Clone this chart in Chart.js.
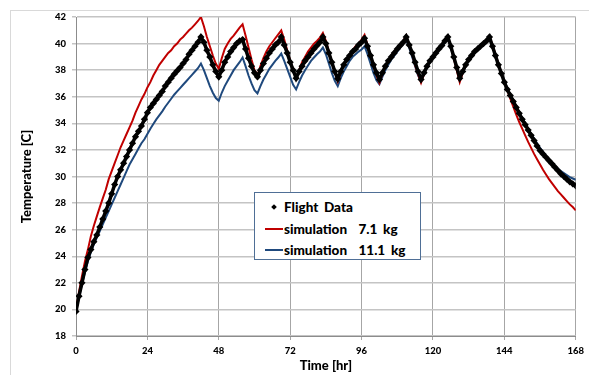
<!DOCTYPE html>
<html>
<head>
<meta charset="utf-8">
<script src="https://cdn.jsdelivr.net/npm/chart.js@4.4.1/dist/chart.umd.min.js"></script>
<style>
  html, body { margin:0; padding:0; background:#fff; }
  #wrap { position:relative; width:589px; height:375px; overflow:hidden; background:#fff; }
  #frame { position:absolute; left:10px; top:10px; width:640px; height:420px; border:1px solid #d9d9d9; }
  #c { position:absolute; left:0; top:0; }
  #legend { position:absolute; left:254px; top:192px; width:165px; height:66px; border:1px solid #4f6f96; background:#fff;
            font-family:Lato, 'Open Sans', sans-serif; font-weight:900; font-size:13.5px; color:#000; }
  .row { position:absolute; left:0; height:16px; line-height:16px; white-space:pre; }
  .txt { position:absolute; left:29px; top:0; word-spacing:2.5px; }
  .ln { position:absolute; left:10px; top:7px; width:18px; height:2px; }
  .mk { position:absolute; left:17px; top:6px; width:4px; height:4px; background:#000; transform:rotate(45deg); }
</style>
</head>
<body>
<div id="wrap">
  <div id="frame"></div>
  <canvas id="c" width="589" height="375"></canvas>
  <div id="legend"></div>
</div>
<script>
// ---- data ----
const hours = Array.from({length:169}, (_, i) => i);   // 0 .. 168 hr, hourly samples

const flightTemp = [
  19.85,21.0,22.0,23.0,23.9,24.5,25.1,25.6,26.2,26.8,
  27.4,28.0,28.7,29.4,30.0,30.5,31.0,31.5,32.0,32.5,
  33.0,33.4,33.8,34.3,34.8,35.2,35.5,35.8,36.1,36.4,
  36.8,37.1,37.4,37.7,37.95,38.2,38.5,38.8,39.2,39.5,
  39.8,40.1,40.5,40.1,39.5,39.0,38.4,37.9,37.5,38.0,
  38.6,39.0,39.4,39.7,40.0,40.2,40.3,39.6,38.9,38.3,
  37.8,37.5,38.0,38.5,38.9,39.3,39.6,39.9,40.1,40.5,
  39.9,39.3,38.6,38.0,37.4,37.9,38.3,38.7,39.0,39.3,
  39.6,39.85,40.1,40.5,40.0,39.3,38.6,37.9,37.35,37.9,
  38.4,38.8,39.1,39.4,39.6,39.9,40.1,40.4,39.8,39.1,
  38.4,37.8,37.3,37.8,38.3,38.7,39.0,39.3,39.6,39.85,
  40.1,40.5,39.9,39.3,38.6,37.9,37.3,37.8,38.3,38.7,
  39.0,39.3,39.6,39.85,40.2,40.5,39.8,39.0,38.2,37.4,
  37.9,38.4,38.8,39.1,39.4,39.6,39.8,40.0,40.2,40.5,
  39.8,39.1,38.4,37.75,37.1,36.55,36.1,35.65,35.2,34.75,
  34.3,33.9,33.5,33.1,32.7,32.3,31.95,31.7,31.45,31.2,
  30.95,30.7,30.45,30.2,30.0,29.8,29.6,29.45,29.3
];

const sim71Temp = [
  19.85,21.3,22.5,23.6,24.5,25.5,26.3,27.0,27.7,28.35,
  29.0,29.8,30.4,31.0,31.6,32.2,32.7,33.2,33.7,34.2,
  34.8,35.3,35.8,36.2,36.7,37.1,37.6,38.0,38.4,38.7,
  39.0,39.3,39.5,39.8,40.0,40.3,40.5,40.75,41.0,41.2,
  41.45,41.7,42.0,41.3,40.5,39.8,39.1,38.5,38.1,38.9,
  39.6,40.0,40.35,40.6,40.9,41.2,41.45,40.6,39.7,38.8,
  38.0,37.6,38.3,38.9,39.4,39.8,40.1,40.4,40.7,41.0,
  40.3,39.5,38.7,38.0,37.4,38.0,38.6,39.0,39.4,39.7,
  40.0,40.2,40.45,40.8,40.2,39.4,38.6,37.8,37.15,37.8,
  38.4,38.8,39.2,39.5,39.8,40.0,40.3,40.65,39.9,39.1,
  38.3,37.6,37.05,37.7,38.3,38.7,39.1,39.4,39.7,39.95,
  40.2,40.6,39.9,39.2,38.4,37.7,37.05,37.7,38.3,38.7,
  39.1,39.4,39.7,39.95,40.2,40.55,39.8,38.9,38.0,37.1,
  37.8,38.4,38.8,39.1,39.4,39.6,39.8,40.0,40.2,40.5,
  39.9,39.2,38.5,37.8,37.1,36.5,35.85,35.25,34.65,34.1,
  33.6,33.1,32.6,32.15,31.7,31.3,30.9,30.5,30.15,29.8,
  29.5,29.2,28.9,28.65,28.4,28.15,27.9,27.7,27.45
];

const sim111Temp = [
  19.85,20.9,21.9,22.8,23.6,24.3,24.9,25.4,25.9,26.4,
  26.9,27.4,27.9,28.4,28.9,29.4,29.9,30.4,30.9,31.3,
  31.7,32.1,32.5,32.8,33.2,33.6,33.95,34.3,34.6,34.9,
  35.25,35.55,35.85,36.15,36.4,36.65,36.9,37.15,37.4,37.65,
  37.9,38.15,38.5,38.0,37.4,36.8,36.3,35.9,35.7,36.3,
  36.8,37.2,37.6,38.0,38.3,38.6,38.95,38.3,37.6,37.0,
  36.5,36.25,36.8,37.3,37.7,38.1,38.4,38.7,38.95,39.25,
  38.7,38.1,37.5,36.9,36.55,37.1,37.6,38.0,38.35,38.7,
  38.95,39.2,39.4,39.7,39.2,38.5,37.8,37.2,36.8,37.4,
  37.9,38.3,38.7,39.0,39.2,39.4,39.55,39.8,39.2,38.5,
  37.8,37.25,36.95,37.5,38.0,38.4,38.8,39.1,39.4,39.7,
  39.95,40.3,39.7,39.0,38.3,37.6,37.2,37.7,38.2,38.6,
  38.9,39.2,39.5,39.8,40.05,40.4,39.7,38.9,38.1,37.3,
  37.8,38.3,38.7,39.0,39.3,39.5,39.7,39.9,40.1,40.3,
  39.8,39.1,38.4,37.8,37.2,36.65,36.15,35.7,35.25,34.8,
  34.4,34.0,33.6,33.2,32.85,32.5,32.15,31.85,31.55,31.3,
  31.05,30.8,30.6,30.4,30.25,30.1,29.95,29.85,29.75
];

const seriesLabels = ['Flight Data', 'simulation  7.1 kg', 'simulation  11.1 kg'];
const timeTicks = [0, 24, 48, 72, 96, 120, 144, 168];
const tempTicks = [18, 20, 22, 24, 26, 28, 30, 32, 34, 36, 38, 40, 42];
const xTitle = 'Time [hr]';
const yTitle = 'Temperature [C]';

// ---- chart ----
const toXY = arr => hours.map((h, i) => ({ x: h, y: arr[i] }));
const tickFont = { family: 'Lato', weight: '900', size: 9.5 };
const titleFont = { family: 'Lato', weight: '900', size: 13 };

const chart = new Chart(document.getElementById('c'), {
  type: 'line',
  data: {
    datasets: [
      { label: seriesLabels[0], data: toXY(flightTemp), borderColor: '#000', backgroundColor: '#000',
        borderWidth: 3.5, pointStyle: 'rectRot', pointRadius: 3.6, pointBorderWidth: 0, pointBackgroundColor: '#000', tension: 0 },
      { label: seriesLabels[1], data: toXY(sim71Temp), borderColor: '#C00000', borderWidth: 2, pointRadius: 0, tension: 0 },
      { label: seriesLabels[2], data: toXY(sim111Temp), borderColor: '#1F497D', borderWidth: 2, pointRadius: 0, tension: 0 }
    ]
  },
  options: {
    responsive: false,
    animation: false,
    events: [],
    layout: { padding: { left: 10, top: 17, right: 12, bottom: 0 } },
    plugins: { legend: { display: false }, tooltip: { enabled: false } },
    scales: {
      x: {
        type: 'linear', min: 0, max: 168,
        afterBuildTicks: s => { s.ticks = timeTicks.map(v => ({ value: v })); },
        afterFit: s => { s.height = 39; },
        ticks: { font: tickFont, color: '#000', padding: 5, maxRotation: 0, autoSkip: false },
        grid: { color: '#a6a6a6', lineWidth: 1, tickLength: 4 },
        border: { color: '#8c8c8c', width: 1 },
        title: { display: true, text: xTitle, font: titleFont, color: '#000', padding: { top: 0, bottom: 1 } }
      },
      y: {
        type: 'linear', min: 18, max: 42,
        afterBuildTicks: s => { s.ticks = tempTicks.map(v => ({ value: v })); },
        afterFit: s => { s.width = 66; },
        ticks: { font: tickFont, color: '#000', padding: 6, autoSkip: false },
        grid: { color: '#c4c4c4', lineWidth: 1.5, tickLength: 4 },
        border: { color: '#8c8c8c', width: 1 },
        title: { display: true, text: yTitle, font: titleFont, color: '#000', padding: { top: 9, bottom: 0 } }
      }
    }
  }
});

// ---- legend (HTML, built from the chart's datasets) ----
const lg = document.getElementById('legend');
const rowTops = [6, 28, 49];
chart.data.datasets.forEach((ds, i) => {
  const row = document.createElement('div');
  row.className = 'row';
  row.style.top = rowTops[i] + 'px';
  row.style.width = '160px';
  if (i === 0) {
    const m = document.createElement('div'); m.className = 'mk'; row.appendChild(m);
  } else {
    const l = document.createElement('div'); l.className = 'ln'; l.style.background = ds.borderColor; row.appendChild(l);
  }
  const t = document.createElement('span'); t.className = 'txt'; t.textContent = ds.label; row.appendChild(t);
  lg.appendChild(row);
});
</script>
</body>
</html>
